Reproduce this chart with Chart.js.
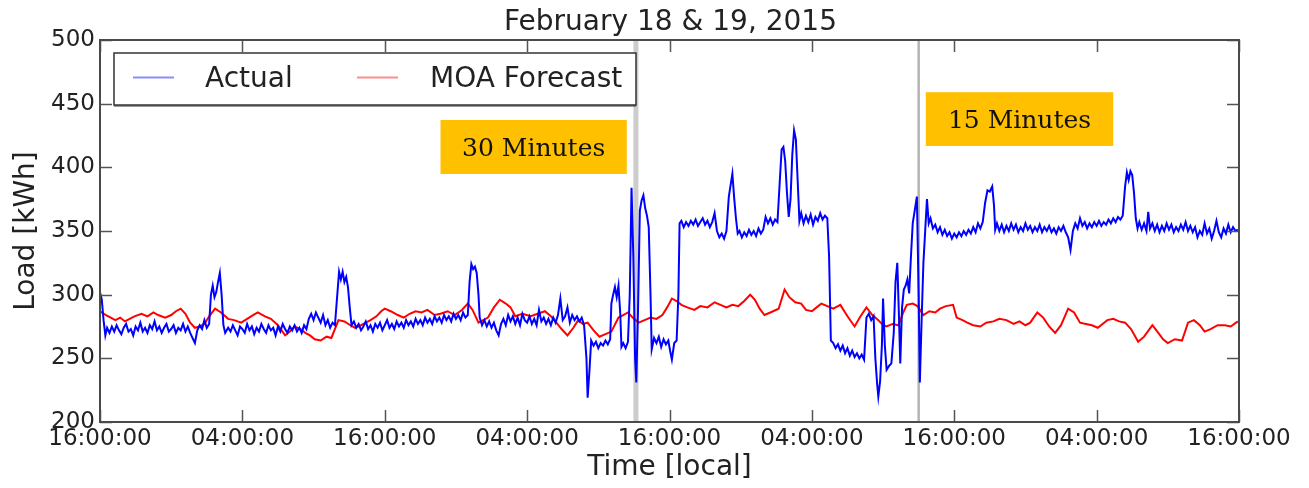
<!DOCTYPE html>
<html><head><meta charset="utf-8">
<script src="https://cdn.jsdelivr.net/npm/chart.js@4.4.1/dist/chart.umd.min.js"></script>
<style>html,body{margin:0;padding:0;background:#fff;}</style>
</head><body>
<canvas id="c" width="1309" height="488" style="display:block"></canvas>
<script>
const chartTitle = 'February 18 & 19, 2015';
const xTickLabels = ['16:00:00','04:00:00','16:00:00','04:00:00','16:00:00','04:00:00','16:00:00','04:00:00','16:00:00'];
const seriesNames = ['Actual', 'MOA Forecast'];
// hours since first 16:00:00, load in kWh
const actualPoints = [
[0,302],[0.15,296],[0.3,280],[0.45,268],[0.6,274],[0.8,270],[1.0,275],[1.2,271],[1.4,276],[1.6,272],[1.8,269],[2.0,274],[2.2,277],[2.4,271],[2.6,273],[2.8,268],[3.0,275],[3.2,272],[3.4,278],[3.6,271],[3.8,274],[4.0,270],[4.2,276],[4.4,273],[4.6,279],[4.8,272],[5.0,275],[5.2,270],[5.4,274],[5.6,277],[5.8,271],[6.0,273],[6.2,276],[6.4,270],[6.6,274],[6.8,272],[7.0,277],[7.2,271],[7.4,275],[7.6,270],[7.8,266],[8.0,262],[8.2,272],[8.4,276],[8.6,273],[8.8,280],[9.0,274],[9.2,277],
[9.35,300],[9.5,307],[9.65,298],[9.8,302],[9.95,310],[10.1,317],[10.25,300],[10.4,276],[10.55,270],
[10.8,274],[11.0,271],[11.2,276],[11.4,272],[11.6,268],[11.8,275],[12.0,273],[12.2,270],[12.4,277],[12.6,272],[12.8,275],[13.0,269],[13.2,274],[13.4,271],[13.6,277],[13.8,273],[14.0,270],[14.2,276],[14.4,272],[14.6,274],[14.8,268],[15.0,275],[15.2,271],[15.4,277],[15.6,273],[15.8,270],[16.0,275],[16.2,272],[16.4,276],[16.6,271],[16.8,274],[17.0,270],[17.2,276],[17.4,273],
[17.6,281],[17.8,285],[18.0,280],[18.2,286],[18.4,282],[18.6,278],[18.8,284],[19.0,276],[19.2,280],[19.4,274],[19.6,278],[19.8,276],
[20.0,300],[20.15,318],[20.3,312],[20.45,318],[20.6,310],[20.75,314],[20.9,306],[21.05,290],[21.2,276],
[21.4,279],[21.6,274],[21.8,277],[22.0,272],[22.2,275],[22.4,279],[22.6,273],[22.8,276],[23.0,271],[23.2,277],[23.4,274],[23.6,278],[23.8,272],[24.0,276],[24.2,280],[24.4,274],[24.6,277],[24.8,273],[25.0,279],[25.2,275],[25.4,278],[25.6,274],[25.8,280],[26.0,276],[26.2,279],[26.4,275],[26.6,281],[26.8,277],[27.0,280],[27.2,276],[27.4,282],[27.6,278],[27.8,281],[28.0,277],[28.2,283],[28.4,279],[28.6,282],[28.8,278],[29.0,284],[29.2,280],[29.4,283],[29.6,279],[29.8,285],[30.0,281],[30.2,284],[30.4,280],[30.6,286],[30.8,282],[31.0,284],
[31.15,310],[31.3,324],[31.45,320],[31.6,322],[31.75,317],[31.9,300],[32.0,282],
[32.2,276],[32.4,280],[32.6,275],[32.8,279],[33.0,274],[33.2,278],[33.4,272],[33.6,268],[33.8,277],[34.0,281],[34.2,276],[34.4,284],[34.6,279],[34.8,283],[35.0,277],[35.2,282],[35.4,276],[35.6,285],[35.8,280],[36.0,278],[36.2,283],[36.4,277],[36.6,281],[36.8,276],[37.0,288],[37.2,279],[37.4,282],[37.6,277],[37.8,281],[38.0,276],[38.2,282],[38.4,278],[38.6,284],[38.8,297],[39.0,280],[39.2,283],[39.4,290],[39.6,278],[39.8,284],[40.0,280],[40.2,283],[40.4,279],[40.6,282],[40.8,276],
[41.0,250],[41.1,219],[41.25,240],[41.4,264],[41.6,260],[41.8,263],[42.0,258],[42.2,262],[42.4,260],[42.6,264],[42.8,261],[43.0,265],[43.1,293],[43.25,300],[43.4,306],[43.55,298],[43.7,307],[43.85,285],[43.95,259],[44.1,262],[44.3,258],[44.5,263],[44.65,300],[44.8,384],[44.95,330],[45.1,250],[45.2,231],[45.35,290],[45.5,366],[45.65,374],[45.8,378],[45.95,368],[46.1,362],[46.25,353],[46.4,300],[46.5,257],
[46.7,266],[46.9,262],[47.1,267],[47.3,259],[47.5,265],[47.7,261],[47.9,264],[48.05,256],[48.2,249],[48.4,262],[48.6,264],[48.75,300],[48.85,356],
[49.0,358],[49.2,353],[49.4,357],[49.6,354],[49.8,358],[50.0,355],[50.2,359],[50.4,354],[50.6,357],[50.8,360],[51.0,355],[51.2,358],[51.4,353],[51.6,357],[51.8,364],[52.0,350],[52.2,345],[52.4,348],[52.6,344],[52.8,350],
[53.0,377],[53.15,386],[53.3,395],[53.45,376],[53.6,360],[53.75,348],
[53.9,350],[54.1,345],[54.3,349],[54.5,346],[54.7,351],[54.9,347],[55.1,350],[55.3,346],[55.5,352],[55.7,348],[55.9,351],[56.1,361],[56.3,356],[56.5,360],[56.7,355],[56.9,359],[57.1,357],
[57.3,390],[57.45,414],[57.6,416],[57.75,405],[57.9,380],[58.05,361],[58.2,375],[58.35,410],[58.5,429],[58.65,422],[58.8,390],[58.95,358],[59.1,364],[59.3,356],[59.5,362],[59.7,357],[59.9,363],[60.1,355],[60.3,361],[60.5,358],[60.7,364],[60.9,359],[61.1,362],[61.3,360],[61.45,330],[61.6,264],
[61.8,262],[62.0,258],[62.2,261],[62.4,256],[62.6,260],[62.8,254],[63.0,258],[63.2,252],[63.4,256],[63.6,251],[63.8,254],[64.0,250],[64.2,253],[64.4,249],
[64.6,282],[64.8,285],[65.0,280],[65.2,283],[65.35,250],[65.5,230],[65.6,220],[65.75,232],[65.9,260],[66.0,297],[66.15,260],[66.3,241],[66.5,244],[66.7,246],[66.9,270],[67.05,310],[67.2,325],[67.35,280],[67.45,246],[67.6,290],[67.75,304],[67.9,307],[68.05,312],[68.2,301],[68.35,330],[68.5,356],[68.7,368],[68.85,377],[69.0,300],[69.1,231],[69.25,280],[69.4,325],[69.55,350],[69.7,375],[69.85,356],
[70.0,360],[70.2,352],[70.4,355],[70.6,349],[70.8,353],[71.0,347],[71.2,351],[71.4,346],[71.6,349],[71.8,344],[72.0,348],[72.2,345],[72.4,349],[72.6,346],[72.8,350],[73.0,347],[73.2,351],[73.4,348],[73.6,353],[73.8,349],[74.0,356],[74.2,352],[74.4,357],
[74.6,372],[74.8,382],[75.0,381],[75.2,385],[75.35,370],[75.45,351],
[75.6,356],[75.8,350],[76.0,355],[76.2,349],[76.4,354],[76.6,350],[76.8,356],[77.0,351],[77.2,355],[77.4,349],[77.6,353],[77.8,350],[78.0,356],[78.2,351],[78.4,354],[78.6,349],[78.8,353],[79.0,350],[79.2,355],[79.4,349],[79.6,353],[79.8,350],[80.0,354],[80.2,349],[80.4,352],[80.6,348],[80.8,353],[81.0,350],[81.2,354],[81.4,349],[81.6,345],[81.8,335],[82.0,350],[82.2,356],[82.4,352],[82.6,360],[82.8,354],[83.0,357],[83.2,352],[83.4,356],[83.6,353],[83.8,357],[84.0,354],[84.2,358],[84.4,354],[84.6,357],[84.8,355],[85.0,359],[85.2,356],[85.4,360],[85.6,357],[85.8,361],[86.0,359],[86.2,362],
[86.4,385],[86.55,396],[86.7,390],[86.85,397],[87.0,394],[87.15,380],[87.3,360],[87.45,352],
[87.6,357],[87.8,351],[88.0,356],[88.2,350],[88.35,365],[88.5,352],[88.7,356],[88.9,350],[89.1,355],[89.3,349],[89.5,354],[89.7,350],[89.9,356],[90.1,351],[90.3,355],[90.5,349],[90.7,353],[90.9,350],[91.1,355],[91.3,351],[91.5,357],[91.7,350],[91.9,354],[92.1,349],[92.3,353],[92.5,345],[92.7,350],[92.9,347],[93.1,356],[93.3,348],[93.5,352],[93.7,344],[93.9,350],[94.1,358],[94.3,349],[94.5,345],[94.7,352],[94.9,348],[95.1,355],[95.3,349],[95.5,353],[95.7,350],[95.9,351]
];
const forecastPoints = [
[0,287],[0.5,284],[0.9,282],[1.3,280],[1.7,282],[2.1,279],[2.5,281],[2.9,283],[3.5,285],[4.0,283],[4.5,286],[4.9,284],[5.5,282],[6.0,284],[6.4,287],[6.8,289],[7.2,285],[7.6,278],[8.0,274],[8.4,275],[8.8,277],[9.2,283],[9.7,289],[10.2,286],[10.8,281],[11.3,280],[11.9,278],[12.4,281],[12.9,284],[13.3,286],[13.9,283],[14.4,281],[15.0,276],[15.6,268],[16.0,271],[16.4,275],[16.9,273],[17.3,270],[17.7,268],[18.1,265],[18.6,264],[19.1,267],[19.5,266],[20.1,280],[20.6,279],[21.1,276],[21.5,274],[22.0,276],[22.4,278],[22.8,280],[23.3,283],[23.7,287],[24.0,289],[24.5,287],[25.1,284],[25.6,282],[26.1,285],[26.6,287],[27.1,286],[27.6,288],[28.2,284],[28.7,285],[29.3,287],[29.9,284],[30.5,288],[31.0,293],[31.4,288],[31.9,278],[32.3,280],[32.7,282],[33.2,290],[33.7,296],[34.2,293],[34.6,290],[35.0,283],[35.6,285],[36.3,283],[36.9,285],[37.5,287],[38.0,283],[38.3,280],[38.9,273],[39.4,268],[39.9,274],[40.3,280],[40.7,277],[41.1,278],[41.6,272],[42.1,267],[42.6,269],[43.1,271],[43.7,282],[44.1,284],[44.5,286],[44.9,282],[45.4,278],[45.9,280],[46.4,282],[46.9,281],[47.4,284],[47.8,290],[48.2,297],[48.6,295],[49.0,292],[49.5,290],[50.1,288],[50.6,291],[51.2,290],[51.8,294],[52.3,292],[52.8,290],[53.3,292],[53.8,291],[54.3,295],[54.8,300],[55.2,296],[55.6,289],[56.0,284],[56.5,286],[57.2,289],[57.7,304],[58.1,298],[58.6,294],[59.1,293],[59.5,288],[60.0,287],[60.4,290],[60.8,293],[61.3,291],[61.8,289],[62.4,292],[63.0,283],[63.6,275],[64.1,283],[64.6,290],[65.1,284],[65.6,280],[66.0,276],[66.3,275],[66.8,277],[67.3,276],[67.7,286],[68.0,292],[68.5,293],[68.9,291],[69.4,284],[69.9,287],[70.4,286],[70.8,289],[71.3,291],[71.9,292],[72.2,282],[72.7,280],[73.1,278],[73.6,276],[74.2,275],[74.7,278],[75.3,279],[75.8,281],[76.4,280],[77.0,277],[77.5,279],[78.0,276],[78.4,278],[79.0,286],[79.5,282],[80.0,275],[80.5,270],[81.0,276],[81.6,289],[82.1,286],[82.6,278],[83.1,277],[83.6,276],[84.1,274],[84.5,277],[84.9,280],[85.4,281],[85.9,279],[86.4,278],[86.9,273],[87.5,263],[88.0,267],[88.7,276],[89.2,270],[89.6,265],[90.0,262],[90.6,265],[91.2,264],[91.7,278],[92.2,280],[92.7,276],[93.1,271],[93.6,273],[94.2,276],[94.8,276],[95.3,275],[95.9,279]
];
// hours at which the metering interval changes
const intervalChanges = [45.17, 69.0];
const intervalLabels = ['30 Minutes', '15 Minutes'];
</script>
<script>
const annotationBoxes = [
  {x0: 28.7, x1: 44.4, y0: 394.8, y1: 437.2},
  {x0: 69.6, x1: 85.4, y0: 416.8, y1: 459.0}
];
const FONT = '"DejaVu Sans", sans-serif';
const decor = {
  id: 'decor',
  beforeDatasetsDraw(chart) {
    const {ctx, chartArea: a, scales: {x, y}} = chart;
    ctx.save();
    const st = [{w: 5, c: '#cdcdcd'}, {w: 2.5, c: '#b4b4b4'}];
    intervalChanges.forEach((h, i) => {
      const px = x.getPixelForValue(h);
      ctx.fillStyle = st[i].c;
      ctx.fillRect(px - st[i].w / 2, a.top, st[i].w, a.bottom - a.top);
    });
    annotationBoxes.forEach((b, i) => {
      const l = x.getPixelForValue(b.x0), r = x.getPixelForValue(b.x1);
      const t = y.getPixelForValue(b.y1), btm = y.getPixelForValue(b.y0);
      ctx.fillStyle = '#FFC000';
      ctx.fillRect(l, t, r - l, btm - t);
      ctx.fillStyle = '#111';
      ctx.font = '25px "DejaVu Serif", serif';
      ctx.textAlign = 'center';
      ctx.textBaseline = 'alphabetic';
      ctx.fillText(intervalLabels[i], (l + r) / 2, t + (btm - t) / 2 + 9);
    });
    ctx.restore();
  },
  afterDatasetsDraw(chart) {
    const {ctx, chartArea: a, scales: {x, y}} = chart;
    ctx.save();
    ctx.strokeStyle = '#555';
    ctx.lineWidth = 1.5;
    ctx.beginPath();
    x.ticks.forEach(t => {
      const px = Math.round(x.getPixelForValue(t.value)) + 0.5;
      ctx.moveTo(px, a.bottom); ctx.lineTo(px, a.bottom - 12);
      ctx.moveTo(px, a.top); ctx.lineTo(px, a.top + 12);
    });
    y.ticks.forEach(t => {
      const py = Math.round(y.getPixelForValue(t.value)) + 0.5;
      ctx.moveTo(a.left, py); ctx.lineTo(a.left + 12, py);
      ctx.moveTo(a.right, py); ctx.lineTo(a.right - 12, py);
    });
    ctx.stroke();
    ctx.strokeStyle = '#4a4a4a';
    ctx.lineWidth = 2;
    ctx.strokeRect(a.left, a.top, a.right - a.left, a.bottom - a.top);
    const lx = 114, ly = 53, lw = 522, lh = 52;
    ctx.fillStyle = '#fff';
    ctx.fillRect(lx, ly, lw, lh);
    ctx.strokeStyle = '#333';
    ctx.lineWidth = 1.5;
    ctx.strokeRect(lx, ly, lw, lh);
    ctx.lineWidth = 1;
    ctx.beginPath(); ctx.moveTo(lx, ly + lh + 1); ctx.lineTo(lx + lw, ly + lh + 1); ctx.stroke();
    const items = [{c: 'rgba(0,0,255,0.45)', lx: 133, tx: 205}, {c: 'rgba(255,0,0,0.45)', lx: 357, tx: 430}];
    ctx.font = '28px ' + FONT;
    ctx.textAlign = 'left';
    ctx.textBaseline = 'alphabetic';
    items.forEach((it, i) => {
      ctx.strokeStyle = it.c; ctx.lineWidth = 2;
      ctx.beginPath(); ctx.moveTo(it.lx, 77.5); ctx.lineTo(it.lx + 41, 77.5); ctx.stroke();
      ctx.fillStyle = '#222';
      ctx.fillText(seriesNames[i], it.tx, 87);
    });
    ctx.font = '28px ' + FONT;
    ctx.textAlign = 'center';
    ctx.fillStyle = '#222';
    ctx.fillText(chartTitle, (a.left + a.right) / 2 + 1, 30);
    ctx.restore();
  }
};
new Chart(document.getElementById('c'), {
  type: 'line',
  data: {
    datasets: [
      {label: seriesNames[0], data: actualPoints.map(p => ({x: p[0], y: p[1]})), borderColor: '#0000ff', borderWidth: 2, pointRadius: 0, tension: 0},
      {label: seriesNames[1], data: forecastPoints.map(p => ({x: p[0], y: p[1]})), borderColor: '#ff0000', borderWidth: 2, pointRadius: 0, tension: 0}
    ]
  },
  options: {
    responsive: false,
    animation: false,
    devicePixelRatio: 1,
    layout: {padding: {top: 40, right: 70, left: 0, bottom: 0}},
    plugins: {legend: {display: false}, tooltip: {enabled: false}, title: {display: false}},
    scales: {
      x: {
        type: 'linear', min: 0, max: 96,
        afterFit: s => { s.height = 66; },
        grid: {display: false, drawTicks: false},
        border: {display: false},
        ticks: {stepSize: 12, autoSkip: false, maxRotation: 0, padding: 3, color: '#222',
          font: {family: FONT, size: 23},
          callback: (v, i) => xTickLabels[i]},
        title: {display: true, text: 'Time [local]', color: '#222', font: {family: FONT, size: 28}, padding: {top: 0, bottom: 3}}
      },
      y: {
        min: 200, max: 500,
        afterFit: s => { s.width = 100; },
        grid: {display: false, drawTicks: false},
        border: {display: false},
        ticks: {stepSize: 50, padding: 5, color: '#222', font: {family: FONT, size: 23}},
        title: {display: true, text: 'Load [kWh]', color: '#222', font: {family: FONT, size: 28}, padding: {top: 10, bottom: 0}}
      }
    }
  },
  plugins: [decor]
});
</script>
</body></html>
